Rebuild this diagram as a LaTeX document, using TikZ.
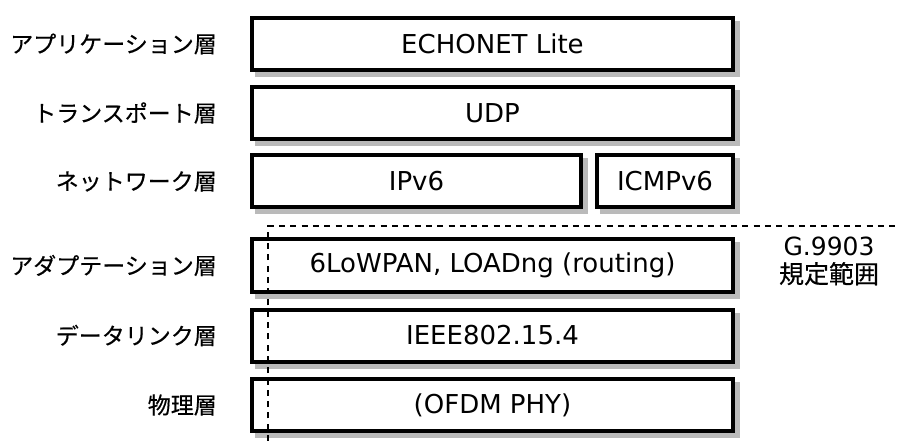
\documentclass[tikz,border=0pt]{standalone}
\usepackage{fontspec}
\setmainfont{DejaVu Sans}
\newfontfamily\jp{Noto Sans CJK JP}[FakeBold=0.4]
\pgfdeclarelayer{background}
\pgfsetlayers{background,main}
\begin{document}
\begin{tikzpicture}[x=1pt,y=-1pt,
  layer/.style={draw=black, line width=4pt, fill=white, minimum height=52pt, inner sep=0pt,
    font=\fontsize{26}{30}\selectfont},
  shadowc/.style={fill=black!27},
  lab/.style={anchor=east, inner sep=0pt, font=\jp\fontsize{23}{27}\selectfont},
  dashline/.style={draw=black, line width=2.5pt, dash pattern=on 6pt off 5.3pt}]
\useasboundingbox (0,0) rectangle (898,441);
% layer boxes
\node[layer, minimum width=481pt] (app) at (492.5,44) {ECHONET Lite};
\node[layer, minimum width=481pt] (udp) at (492.5,113) {UDP};
\node[layer, minimum width=329pt] (ip) at (416.5,181.5) {IPv6};
\node[layer, minimum width=136pt] (icmp) at (665,181.5) {ICMPv6};
\node[layer, minimum width=481pt] (ada) at (492.5,265.5) {6LoWPAN, LOADng (routing)};
\node[layer, minimum width=481pt] (dl) at (492.5,335.5) {IEEE802.15.4};
\node[layer, minimum width=481pt] (phy) at (492.5,405) {(OFDM PHY)};
\begin{pgfonlayer}{background}
\fill[white] (0,0) rectangle (898,441);
\foreach \n in {app,udp,ip,icmp,ada,dl,phy}
  \fill[shadowc] ([shift={(5,5)}]\n.north west) rectangle ([shift={(5,5)}]\n.south east);
\end{pgfonlayer}
% layer labels
\node[lab] (l1) at (217,44) {アプリケーション層};
\node[lab] (l2) at (217,113) {トランスポート層};
\node[lab] (l3) at (217,181.5) {ネットワーク層};
\node[lab] (l4) at (217,265.5) {アダプテーション層};
\node[lab] (l5) at (217,335.5) {データリンク層};
\node[lab] (l6) at (217,405) {物理層};
% G.9903 range
\node[inner sep=0pt, align=center, font=\fontsize{25}{28}\selectfont] (g) at (829,261)
  {G.9903\\{\jp 規定範囲}};
\coordinate (dbot) at (268,441);
\coordinate (dtop) at (268,226);
\coordinate (dright) at (898,226);
\draw[dashline] (dbot) -- (dtop) -- (dright);
\end{tikzpicture}
\end{document}
